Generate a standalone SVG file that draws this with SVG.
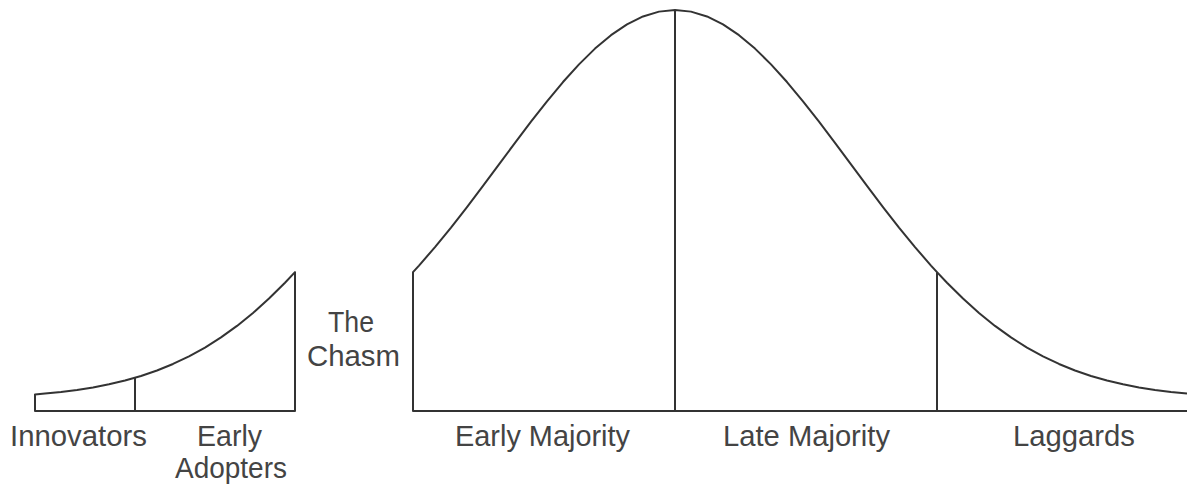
<svg xmlns="http://www.w3.org/2000/svg" width="1187" height="486" viewBox="0 0 1187 486">
<style>
.ln{fill:none;stroke:#333;stroke-width:2;stroke-linejoin:round;stroke-linecap:butt}
.lb{font-family:"Liberation Sans",Arial,sans-serif;font-size:29px;fill:#444;text-anchor:middle}
</style>
<rect width="1187" height="486" fill="#fff"/>
<g id="early-market">
<path class="ln" d="M35,411 L35,394.45 L45,393.61 L61,391.99 L77,389.96 L93,387.43 L109,384.31 L125,380.52 L141,375.93 L157,370.45 L173,363.97 L189,356.37 L205,347.54 L221,337.41 L237,325.91 L253,312.96 L269,298.58 L285,282.75 L295,272.17 L295,411 Z"/>
<line class="ln" x1="135" y1="377.75" x2="135" y2="411"/>
</g>
<g id="mainstream-market">
<path class="ln" d="M1187,411 L413,411 L413,272.17 L419,265.57 L435,247.11 L451,227.53 L467,207.04 L483,185.90 L499,164.40 L515,142.88 L531,121.72 L547,101.30 L563,82.04 L579,64.34 L595,48.60 L611,35.16 L627,24.36 L643,16.45 L659,11.62 L675,10 L691,11.62 L707,16.45 L723,24.36 L739,35.16 L755,48.60 L771,64.34 L787,82.04 L803,101.30 L819,121.72 L835,142.88 L851,164.40 L867,185.90 L883,207.04 L899,227.53 L915,247.11 L931,265.57 L937,272.17 L947,282.75 L963,298.58 L979,312.96 L995,325.91 L1011,337.41 L1027,347.54 L1043,356.37 L1059,363.97 L1075,370.45 L1091,375.93 L1107,380.52 L1123,384.31 L1139,387.43 L1155,389.96 L1171,391.99 L1187,393.61"/>
<line class="ln" x1="675" y1="10" x2="675" y2="411"/>
<line class="ln" x1="937" y1="272.17" x2="937" y2="411"/>
</g>
<g id="labels">
<text class="lb" x="78.5" y="446" textLength="137" lengthAdjust="spacingAndGlyphs">Innovators</text>
<text class="lb" x="229.5" y="446" textLength="65" lengthAdjust="spacingAndGlyphs">Early</text>
<text class="lb" x="231" y="478" textLength="112" lengthAdjust="spacingAndGlyphs">Adopters</text>
<text class="lb" x="351" y="332" textLength="46" lengthAdjust="spacingAndGlyphs">The</text>
<text class="lb" x="353.5" y="366" textLength="93" lengthAdjust="spacingAndGlyphs">Chasm</text>
<text class="lb" x="542.5" y="446" textLength="175" lengthAdjust="spacingAndGlyphs">Early Majority</text>
<text class="lb" x="806.5" y="446" textLength="167" lengthAdjust="spacingAndGlyphs">Late Majority</text>
<text class="lb" x="1074" y="446" textLength="122" lengthAdjust="spacingAndGlyphs">Laggards</text>
</g>
</svg>
